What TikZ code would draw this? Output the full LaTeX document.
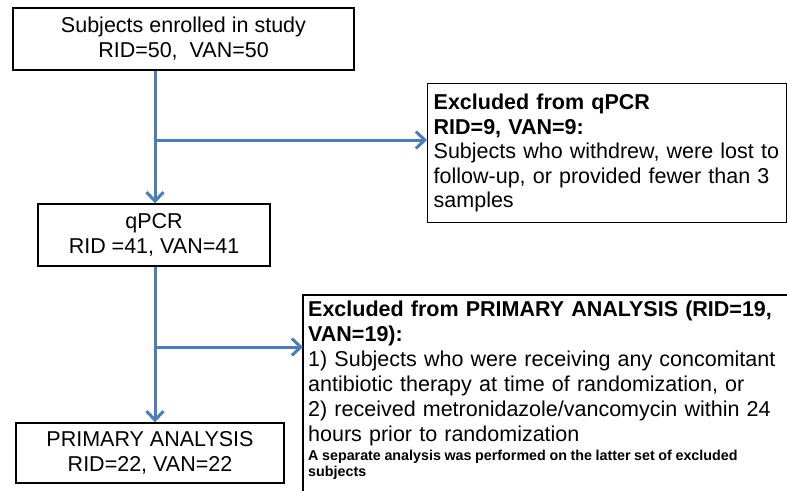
\documentclass[tikz,border=0pt]{standalone}
\usepackage{fontspec}
\setmainfont{Liberation Sans}
\usetikzlibrary{arrows.meta}
\definecolor{flowblue}{RGB}{74,126,187}
\begin{document}
\begin{tikzpicture}[x=1pt,y=-1pt,
  box/.style={draw=black,line width=1.4pt,inner sep=0pt,align=center,
    font=\fontsize{21.5}{25}\selectfont},
  exbox/.style={draw=black,line width=1.4pt,inner xsep=6pt,inner ysep=0pt,align=left,
    font=\fontsize{21.5}{24.5}\selectfont},
  flow/.style={draw=flowblue,line width=3pt,
    -{Straight Barb[length=9pt,width=17pt,line width=3pt]}}]
\useasboundingbox (0,0) rectangle (787,490);
\clip (0,0) rectangle (787,490);
\fill[white] (0,0) rectangle (787,490);

\node[box,minimum width=341pt,minimum height=62pt] (b1) at (183.5,39)
  {Subjects enrolled in study\\RID=50, \ VAN=50};
\node[box,minimum width=232pt,minimum height=62pt] (b2) at (154,235)
  {qPCR\\RID =41, VAN=41};
\node[box,minimum width=268pt,minimum height=60pt] (b3) at (150,453)
  {PRIMARY ANALYSIS\\RID=22, VAN=22};

\node[exbox,text width=347pt,minimum height=139pt,anchor=north west] (ex1) at (427,83)
  {\textbf{Excluded from qPCR}\\
   \textbf{RID=9, VAN=9:}\\
   Subjects who withdrew, were lost to\\
   follow-up, or provided fewer than 3\\
   samples};

\node[anchor=north west,inner xsep=5pt,inner ysep=6pt,text width=485pt,align=left,
  font=\fontsize{21.5}{25}\selectfont] (ex2) at (303,295)
  {\textbf{Excluded from PRIMARY ANALYSIS (RID=19,}\newline
   \textbf{VAN=19):}\newline
   1) Subjects who were receiving any concomitant\newline
   antibiotic therapy at time of randomization, or\newline
   2) received metronidazole/vancomycin within 24\newline
   hours prior to randomization\par
   \vspace{3pt}
   {\fontsize{14.3}{16}\selectfont\bfseries\spaceskip=3.6pt\relax\xspaceskip=3.6pt\relax
   \mbox{A separate analysis was performed on the latter set of excluded}\newline
   \mbox{subjects}\par}};
\draw[line width=1.4pt] (ex2.north west |- 0,520) -- (ex2.north west) -- (ex2.north west -| 820,0);

\coordinate (j1) at (155,140);
\coordinate (j2) at (155,347);

\draw[flow] (j1 |- b1.south) -- (j1 |- b2.north);
\draw[flow] (j1) -- (j1 -| ex1.west);
\draw[flow] (j2 |- b2.south) -- (j2 |- b3.north);
\draw[flow] (j2) -- (j2 -| ex2.west);
\end{tikzpicture}
\end{document}
